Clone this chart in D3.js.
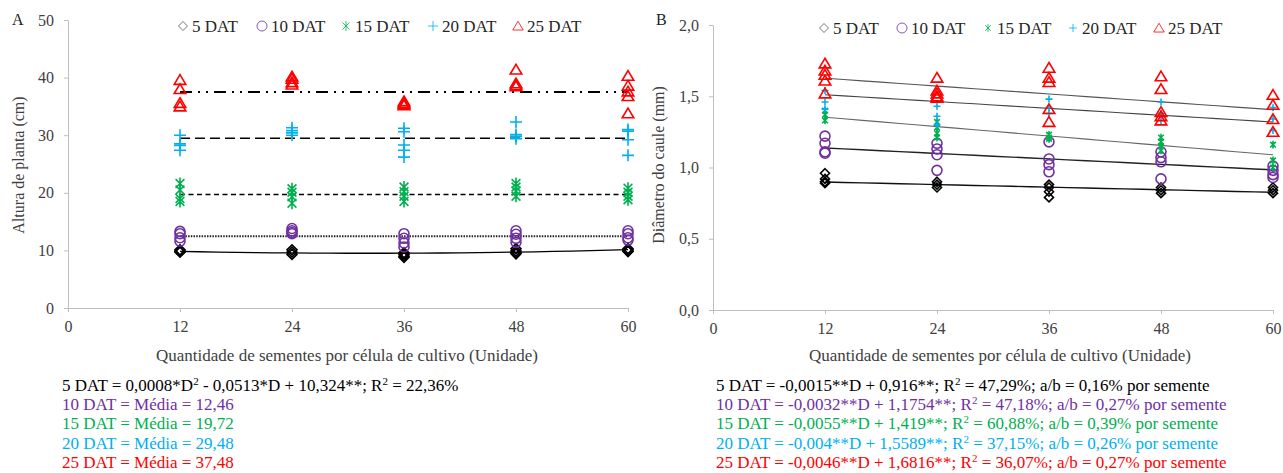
<!DOCTYPE html>
<html>
<head>
<meta charset="utf-8">
<script src="https://cdn.jsdelivr.net/npm/d3@7"></script>
<style>
  body { margin: 0; background: #fff; }
  svg text { font-family: "Liberation Serif", "Times New Roman", serif; }
  .axis path, .axis line { stroke: #bfbfbf; }
  .axis text { fill: #404040; font-size: 16px; font-family: "Liberation Serif", serif; }
</style>
</head>
<body>
<svg id="chart"></svg>
<script>
// ---- data ----
const doses = [12, 24, 36, 48, 60];
const seriesNames = ['5 DAT', '10 DAT', '15 DAT', '20 DAT', '25 DAT'];
const seriesColors = ['#000000', '#7030A0', '#00B050', '#00B0F0', '#FF0000'];
const seriesSymbols = ['diamond', 'circle', 'asterisk', 'plus', 'triangle'];

const xTicks = [0, 12, 24, 36, 48, 60];
const yTicksA = [0, 10, 20, 30, 40, 50];
const yTicksB = [0, 0.5, 1.0, 1.5, 2.0];

// A: plant height (cm), replicates per dose
const alturaDAT5  = [[10.1, 9.9, 9.8, 9.7], [10.1, 9.7, 9.3], [9.6, 9.3, 9.0, 8.8], [10.3, 9.9, 9.6, 9.4], [10.3, 10.1, 9.9, 9.8]];
const alturaDAT10 = [[13.3, 12.9, 12.2, 11.6], [13.8, 13.4, 13.1, 12.9], [12.9, 12.1, 11.3, 10.6], [13.4, 12.8, 12.1, 11.4], [13.4, 12.9, 12.2, 11.8]];
const alturaDAT15 = [[21.6, 20.5, 19.0, 18.5], [20.7, 20.1, 19.3, 18.2], [21.0, 20.2, 19.4, 18.5], [21.6, 21.0, 20.3, 19.4], [20.8, 20.1, 19.4, 18.8]];
const alturaDAT20 = [[30.0, 28.5, 28.2, 27.4], [31.3, 30.8, 30.4, 30.0], [31.2, 30.6, 28.3, 27.4, 26.2], [32.3, 30.1, 29.8, 29.4], [31.0, 30.7, 29.2, 26.5]];
const alturaDAT25 = [[39.6, 38.0, 35.6, 35.0], [40.2, 39.8, 39.2, 38.8], [35.9, 35.6, 35.4, 35.2], [41.4, 39.0, 38.7, 38.5], [40.3, 38.6, 37.6, 36.8, 33.8]];

// B: stem diameter (mm), replicates per dose
const diametroDAT5  = [[0.96, 0.92, 0.90, 0.89], [0.90, 0.88, 0.86], [0.88, 0.86, 0.83, 0.79], [0.86, 0.84, 0.82], [0.86, 0.84, 0.82]];
const diametroDAT10 = [[1.22, 1.17, 1.11, 1.10], [1.17, 1.13, 1.09, 0.98], [1.18, 1.06, 1.02, 0.97], [1.11, 1.07, 1.04, 0.92], [1.01, 0.98, 0.95, 0.93]];
const diametroDAT15 = [[1.40, 1.37, 1.33], [1.32, 1.28, 1.24, 1.21], [1.23, 1.21, 1.20], [1.21, 1.18, 1.15, 1.12], [1.16, 1.05, 1.00]];
const diametroDAT20 = [[1.54, 1.46, 1.41], [1.43, 1.36, 1.30], [1.48, 1.42, 1.38], [1.46, 1.38, 1.33], [1.42, 1.34, 1.26]];
const diametroDAT25 = [[1.73, 1.68, 1.65, 1.61, 1.52], [1.63, 1.54, 1.52, 1.50, 1.49], [1.70, 1.63, 1.60, 1.41, 1.32], [1.64, 1.55, 1.39, 1.36, 1.33], [1.51, 1.44, 1.34, 1.25]];

// fitted models: [c2, c1, c0]  (y = c2*D^2 + c1*D + c0)
const modelsA = [[0.0008, -0.0513, 10.324], [0, 0, 12.46], [0, 0, 19.72], [0, 0, 29.48], [0, 0, 37.48]];
const modelsB = [[0, -0.0015, 0.916], [0, -0.0032, 1.1754], [0, -0.0055, 1.419], [0, -0.004, 1.5589], [0, -0.0046, 1.6816]];

// equation texts ('2' = superscript)
const eqA = [
  ['5 DAT = 0,0008*D', '2', ' - 0,0513*D + 10,324**; R', '2', ' = 22,36%'],
  ['10 DAT = Média = 12,46'],
  ['15 DAT = Média = 19,72'],
  ['20 DAT = Média = 29,48'],
  ['25 DAT = Média = 37,48']
];
const eqB = [
  ['5 DAT = -0,0015**D + 0,916**; R', '2', ' = 47,29%; a/b = 0,16% por semente'],
  ['10 DAT = -0,0032**D + 1,1754**; R', '2', ' = 47,18%; a/b = 0,27% por semente'],
  ['15 DAT = -0,0055**D + 1,419**; R', '2', ' = 60,88%; a/b = 0,39% por semente'],
  ['20 DAT = -0,004**D + 1,5589**; R', '2', ' = 37,15%; a/b = 0,26% por semente'],
  ['25 DAT = -0,0046**D + 1,6816**; R', '2', ' = 36,07%; a/b = 0,27% por semente']
];

const xTitle = 'Quantidade de sementes por célula de cultivo (Unidade)';

// ---- drawing ----
const W = 1283, H = 473;
const svg = d3.select('#chart').attr('width', W).attr('height', H);

const ptBR = d3.formatLocale({decimal: ',', thousands: '.', grouping: [3], currency: ['R$', '']});

function symbolPath(type, s) {
  const h = s / 2;
  switch (type) {
    case 'diamond': return `M0,${-h}L${h},0L0,${h}L${-h},0Z`;
    case 'circle': return `M${h},0A${h},${h} 0 1,1 ${-h},0A${h},${h} 0 1,1 ${h},0Z`;
    case 'plus': return `M${-h},0H${h}M0,${-h}V${h}`;
    case 'asterisk': {
      const a = h * 0.8;
      return `M0,${-h * 1.1}V${h * 1.1}M${-a},${-a}L${a},${a}M${-a},${a}L${a},${-a}`;
    }
    case 'triangle': {
      const t = h * 0.95;
      return `M0,${-t}L${h * 1.05},${t * 0.85}L${-h * 1.05},${t * 0.85}Z`;
    }
  }
}

function drawPanel(cfg) {
  const g = svg.append('g');
  const x = d3.scaleLinear().domain([0, 60]).range([cfg.x0, cfg.x1]);
  const y = d3.scaleLinear().domain(cfg.yDomain).range([cfg.yBottom, cfg.yTop]);

  g.append('g')
    .attr('class', 'axis')
    .attr('transform', `translate(0,${cfg.yBottom})`)
    .call(d3.axisBottom(x).tickValues(xTicks).tickSize(4).tickSizeOuter(0).tickPadding(9));

  g.append('g')
    .attr('class', 'axis')
    .attr('transform', `translate(${cfg.x0},0)`)
    .call(d3.axisLeft(y).tickValues(cfg.yTicks).tickSize(4).tickSizeOuter(0).tickPadding(10).tickFormat(cfg.yFormat));

  // panel letter
  g.append('text').attr('x', cfg.letterX).attr('y', 25)
    .style('font-size', '16px').attr('fill', '#222').text(cfg.letter);

  // y title
  g.append('text')
    .attr('transform', `translate(${cfg.yTitleX},165) rotate(-90)`)
    .attr('text-anchor', 'middle')
    .style('font-size', '16px').attr('fill', '#404040')
    .text(cfg.yTitle);

  // x title
  g.append('text')
    .attr('x', cfg.xTitleX).attr('y', 361)
    .attr('text-anchor', 'middle')
    .style('font-size', '17px').attr('fill', '#404040')
    .text(xTitle);

  // fitted lines
  const line = d3.line().x(d => x(d[0])).y(d => y(d[1]));
  cfg.models.forEach((m, i) => {
    const pts = d3.range(12, 60.01, 2).map(D => [D, m[0] * D * D + m[1] * D + m[2]]);
    g.append('path')
      .datum(pts)
      .attr('d', line)
      .attr('fill', 'none')
      .attr('stroke', cfg.lineStyles[i].color)
      .attr('stroke-width', cfg.lineStyles[i].width)
      .attr('stroke-dasharray', cfg.lineStyles[i].dash);
  });

  // points
  cfg.series.forEach((vals, i) => {
    const pts = [];
    vals.forEach((reps, k) => reps.forEach(v => pts.push([doses[k], v])));
    g.append('g').selectAll('path')
      .data(pts)
      .join('path')
      .attr('transform', d => `translate(${x(d[0])},${y(d[1])})`)
      .attr('d', symbolPath(seriesSymbols[i], cfg.sizes[i]))
      .attr('fill', 'none')
      .attr('stroke', seriesColors[i])
      .attr('stroke-width', 1.6);
  });

  // legend
  cfg.legendX.forEach((lx, i) => {
    g.append('path')
      .attr('transform', `translate(${lx},${cfg.legendY})`)
      .attr('d', symbolPath(seriesSymbols[i], cfg.legendSizes[i]))
      .attr('fill', 'none')
      .attr('stroke', i === 0 ? '#555' : seriesColors[i])
      .attr('stroke-width', 1)
      .attr('opacity', 0.8);
    g.append('text')
      .attr('x', lx + 9).attr('y', cfg.legendY + 6)
      .style('font-size', '17px').attr('fill', '#262626')
      .text(seriesNames[i]);
  });

  // equations
  cfg.eqs.forEach((parts, i) => {
    const t = g.append('text')
      .attr('x', cfg.eqX).attr('y', 391 + i * 19.2)
      .style('font-size', '17px')
      .attr('fill', seriesColors[i]);
    parts.forEach((p, j) => {
      if (p === '2') {
        t.append('tspan').attr('dy', -6).style('font-size', '11px').text(p);
      } else {
        const ts = t.append('tspan').text(p);
        if (j > 0) ts.attr('dy', 6);
      }
    });
  });
}

drawPanel({
  letter: 'A', letterX: 12,
  x0: 68, x1: 628, yBottom: 308, yTop: 20,
  yDomain: [0, 50], yTicks: yTicksA, yFormat: d3.format('d'),
  yTitle: 'Altura de planta (cm)', yTitleX: 24,
  xTitleX: 347,
  models: modelsA,
  lineStyles: [
    {color: '#000', width: 1.3, dash: null},
    {color: '#222', width: 2, dash: '1.5,1.2'},
    {color: '#000', width: 1.5, dash: '5,3.5'},
    {color: '#000', width: 1.6, dash: '10,5'},
    {color: '#000', width: 2, dash: '12,6,2,6,2,6'}
  ],
  series: [alturaDAT5, alturaDAT10, alturaDAT15, alturaDAT20, alturaDAT25],
  sizes: [10, 10, 11, 12, 11],
  legendX: [183, 262, 346, 433, 518], legendY: 26,
  legendSizes: [9, 10, 9, 10, 10],
  eqs: eqA, eqX: 62
});

drawPanel({
  letter: 'B', letterX: 656,
  x0: 713, x1: 1273, yBottom: 310, yTop: 25,
  yDomain: [0, 2], yTicks: yTicksB, yFormat: ptBR.format('.1f'),
  yTitle: 'Diâmetro do caule (mm)', yTitleX: 664,
  xTitleX: 1000,
  models: modelsB,
  lineStyles: [
    {color: '#111', width: 1.4, dash: null},
    {color: '#222', width: 1.4, dash: null},
    {color: '#666', width: 1.1, dash: null},
    {color: '#444', width: 1.1, dash: null},
    {color: '#555', width: 1.1, dash: null}
  ],
  series: [diametroDAT5, diametroDAT10, diametroDAT15, diametroDAT20, diametroDAT25],
  sizes: [9, 10, 7, 7, 11],
  legendX: [824, 902, 988, 1073, 1159], legendY: 28,
  legendSizes: [9, 10, 7, 8, 10],
  eqs: eqB, eqX: 716
});
</script>
</body>
</html>
